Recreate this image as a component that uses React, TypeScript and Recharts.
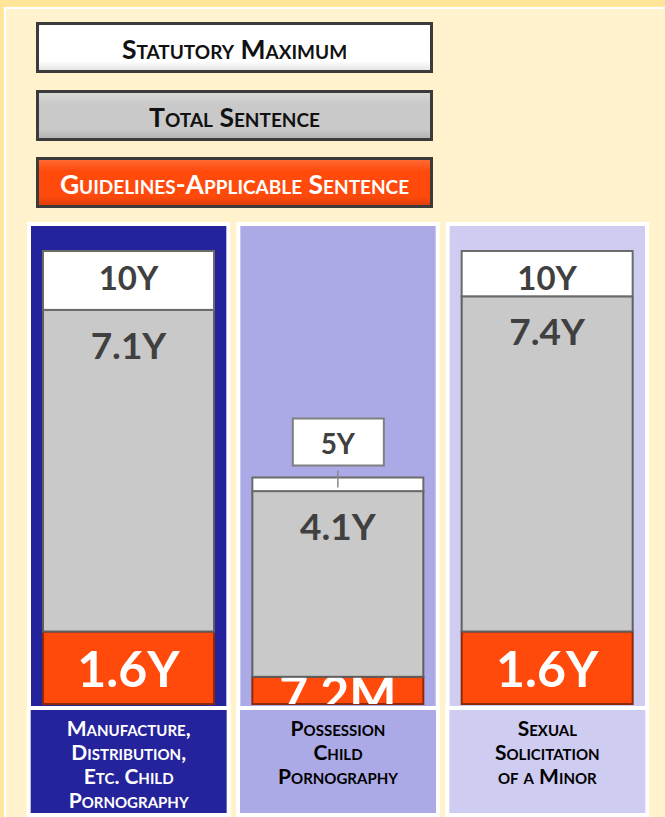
import { Bar, BarChart, Legend, ReferenceArea, XAxis, YAxis } from "recharts";

// categories (one panel each)
const categories = [
  "Manufacture, Distribution, Etc. Child Pornography",
  "Possession Child Pornography",
  "Sexual Solicitation of a Minor",
];
const categoryLines = [
  ["Manufacture,", "Distribution,", "Etc. Child", "Pornography"],
  ["Possession", "Child", "Pornography"],
  ["Sexual", "Solicitation", "of a Minor"],
];

// values in years
const guidelinesSentence = [1.6, 0.6, 1.6];
const totalSentence = [7.1, 4.1, 7.4];
const statutoryMaximum = [10, 5, 10];

// printed labels
const guidelinesLabels = ["1.6Y", "7.2M", "1.6Y"];
const totalLabels = ["7.1Y", "4.1Y", "7.4Y"];
const statutoryLabels = ["10Y", "5Y", "10Y"];
const legendNames = ["Statutory Maximum", "Total Sentence", "Guidelines-Applicable Sentence"];

const FONT = "Lato, 'Open Sans', sans-serif";
const INK = "#404040";
const ORANGE = "#FF4A0C";
const GRAY = "#C9C9C9";
const panelFills = ["#25239C", "#ACAAE6", "#CECCF1"];
const panelInk = ["#FFFFFF", "#000000", "#000000"];

const data = categories.map((name, i) => ({
  name,
  guidelines: guidelinesSentence[i],
  total: totalSentence[i],
  rest: +(statutoryMaximum[i] - guidelinesSentence[i] - totalSentence[i]).toFixed(2),
  gLabel: guidelinesLabels[i],
  tLabel: totalLabels[i],
  sLabel: statutoryLabels[i],
}));

function Panel(props: any) {
  const { x, y, width, height, fill } = props;
  return (
    <g>
      <rect x={x + 3} y={y - 29} width={width - 6} height={height + 31} fill="#FFFFFF" />
      <rect x={x + 7} y={y - 25} width={width - 14} height={height + 27} fill={fill} />
    </g>
  );
}

function CategoryTick(props: any) {
  const { x, y, payload, index } = props;
  const i = typeof index === "number" ? index : categories.indexOf(payload.value);
  const lines = categoryLines[i] || [];
  return (
    <g>
      <rect x={x - 102} y={y + 2} width={204} height={112} fill="#FFFFFF" />
      <rect x={x - 98} y={y + 6} width={196} height={103} fill={panelFills[i]} />
      {lines.map((l, k) => (
        <text
          key={k}
          x={x}
          y={y + 32 + k * 24}
          textAnchor="middle"
          fill={panelInk[i]}
          fontFamily={FONT}
          fontWeight={700}
          fontSize={21}
          style={{ fontVariant: "small-caps" }}
        >
          {l}
        </text>
      ))}
    </g>
  );
}

function GuidelinesShape(props: any) {
  const { x, y, width, height, payload, index } = props;
  const id = `g-clip-${index}`;
  const baseline = Math.max(y + height / 2 + 19, y + 35);
  return (
    <g>
      <defs>
        <clipPath id={id}>
          <rect x={x} y={y} width={width} height={height} />
        </clipPath>
      </defs>
      <rect x={x} y={y} width={width} height={height} fill={ORANGE} stroke="#8C2A08" strokeWidth={2} />
      <text
        clipPath={`url(#${id})`}
        x={x + width / 2}
        y={baseline}
        textAnchor="middle"
        fill="#FFFFFF"
        fontFamily={FONT}
        fontWeight={700}
        fontSize={50}
      >
        {payload.gLabel}
      </text>
    </g>
  );
}

function TotalShape(props: any) {
  const { x, y, width, height, payload } = props;
  return (
    <g>
      <rect x={x} y={y} width={width} height={height} fill={GRAY} stroke="#5F5F5F" strokeWidth={2} />
      <text
        x={x + width / 2}
        y={y + 49}
        textAnchor="middle"
        fill={INK}
        fontFamily={FONT}
        fontWeight={700}
        fontSize={37}
      >
        {payload.tLabel}
      </text>
    </g>
  );
}

function StatutoryShape(props: any) {
  const { x, y, width, height, payload } = props;
  const cx = x + width / 2;
  const roomy = height > 30;
  return (
    <g>
      <rect x={x} y={y} width={width} height={height} fill="#FFFFFF" stroke="#6B6B6B" strokeWidth={2} />
      {roomy ? (
        <text x={cx} y={y + 39} textAnchor="middle" fill={INK} fontFamily={FONT} fontWeight={700} fontSize={33}>
          {payload.sLabel}
        </text>
      ) : (
        <g>
          <line x1={cx} x2={cx} y1={y - 7} y2={y + 10} stroke="#8A8A8A" strokeWidth={1.5} />
          <rect x={cx - 45} y={y - 59} width={91} height={47} fill="#FFFFFF" stroke="#7F7F7F" strokeWidth={2} />
          <text x={cx} y={y - 24} textAnchor="middle" fill={INK} fontFamily={FONT} fontWeight={700} fontSize={28}>
            {payload.sLabel}
          </text>
        </g>
      )}
    </g>
  );
}

function LegendBoxes() {
  const looks = [
    { bg: "linear-gradient(#FFFFFF, #FFFFFF 80%, #E6E6E6)", color: "#111111" },
    { bg: `linear-gradient(#D8D8D8, ${GRAY} 25%, ${GRAY} 80%, #B4B4B4)`, color: "#111111" },
    { bg: `linear-gradient(#FF6A33, ${ORANGE} 25%, ${ORANGE} 80%, #E0400A)`, color: "#FFFFFF" },
  ];
  return (
    <div>
      {legendNames.map((n, i) => (
        <div
          key={n}
          style={{
            boxSizing: "border-box",
            width: 397,
            height: 51,
            marginBottom: i < 2 ? 16.5 : 0,
            border: "3px solid #3B3B3B",
            background: looks[i].bg,
            color: looks[i].color,
            display: "flex",
            alignItems: "center",
            justifyContent: "center",
            paddingTop: 3,
            fontFamily: FONT,
            fontWeight: 700,
            fontSize: 26.5,
            fontVariant: "small-caps",
            whiteSpace: "nowrap",
          }}
        >
          {n}
        </div>
      ))}
    </div>
  );
}

export default function App() {
  return (
    <div style={{ position: "absolute", left: 0, top: 0, width: 665, height: 817, background: "#FFE699", overflow: "hidden" }}>
      <div
        style={{
          position: "absolute",
          left: 4,
          top: 7,
          width: 670,
          height: 820,
          background: "#FFF2CC",
          borderLeft: "2px solid #FFFFFF",
          borderTop: "2px solid #FFFFFF",
        }}
      />
      <div style={{ position: "absolute", left: 0, top: 0 }}>
        <BarChart
          width={665}
          height={817}
          data={data}
          margin={{ top: 251, right: 13, left: 24, bottom: 3 }}
          barCategoryGap={19}
        >
          <XAxis
            dataKey="name"
            type="category"
            height={110}
            interval={0}
            tickLine={false}
            axisLine={false}
            tickSize={0}
            tickMargin={0}
            tick={<CategoryTick />}
          />
          <YAxis hide type="number" domain={[0, 10]} />
          {categories.map((c, i) => (
            <ReferenceArea
              key={c}
              x1={c}
              x2={c}
              ifOverflow="visible"
              shape={(p: any) => <Panel {...p} fill={panelFills[i]} />}
            />
          ))}
          <Legend
            layout="vertical"
            align="center"
            verticalAlign="middle"
            wrapperStyle={{ top: 22, left: 36, width: 397 }}
            content={() => <LegendBoxes />}
          />
          <Bar dataKey="guidelines" name={legendNames[2]} stackId="s" isAnimationActive={false} shape={<GuidelinesShape />} />
          <Bar dataKey="total" name={legendNames[1]} stackId="s" isAnimationActive={false} shape={<TotalShape />} />
          <Bar dataKey="rest" name={legendNames[0]} stackId="s" isAnimationActive={false} shape={<StatutoryShape />} />
        </BarChart>
      </div>
    </div>
  );
}
